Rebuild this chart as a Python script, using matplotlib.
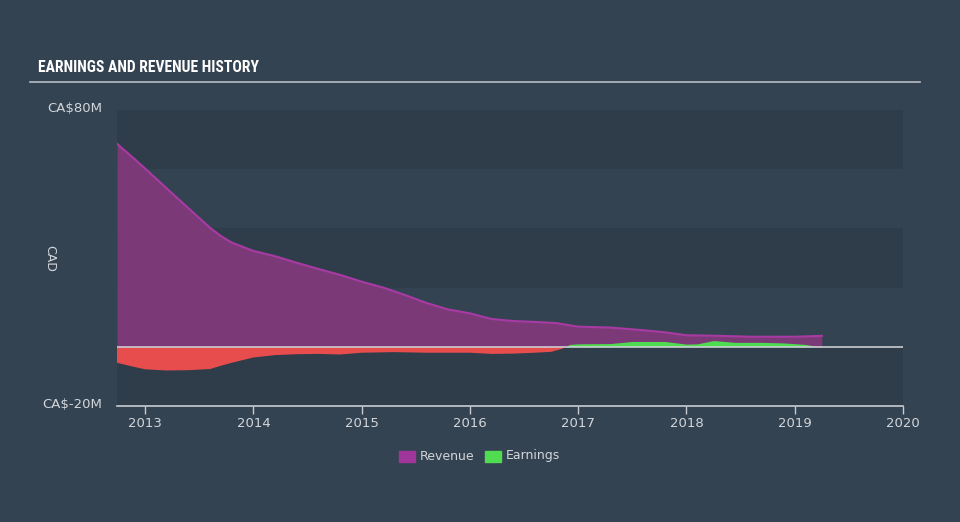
import matplotlib
matplotlib.use("Agg")
import matplotlib.pyplot as plt
from matplotlib import font_manager as fm
from matplotlib.patches import Rectangle
import numpy as np

# ---- data (CA$ millions) ----
rev_t = [2012.74, 2012.9, 2013.0, 2013.2, 2013.4, 2013.6, 2013.7, 2013.8, 2014.0, 2014.2,
         2014.4, 2014.6, 2014.8, 2015.0, 2015.2, 2015.4, 2015.6, 2015.8, 2016.0, 2016.2,
         2016.4, 2016.6, 2016.8, 2017.0, 2017.3, 2017.6, 2017.8, 2018.0, 2018.3, 2018.6,
         2019.0, 2019.25]
rev_v = [68.6, 63.5, 60.2, 53.5, 46.8, 40.2, 37.4, 35.2, 32.4, 30.6,
         28.4, 26.3, 24.3, 22.0, 20.0, 17.5, 14.8, 12.6, 11.3, 9.4,
         8.7, 8.4, 8.0, 6.8, 6.5, 5.6, 4.9, 3.9, 3.7, 3.4, 3.4, 3.7]

earn_t = [2012.74, 2012.9, 2013.0, 2013.2, 2013.4, 2013.6, 2013.7, 2013.8, 2014.0, 2014.2,
          2014.4, 2014.6, 2014.8, 2015.0, 2015.3, 2015.6, 2015.9, 2016.0, 2016.2, 2016.4,
          2016.6, 2016.75, 2016.85, 2016.92, 2017.0, 2017.3, 2017.5, 2017.8, 2018.0, 2018.1,
          2018.25, 2018.45, 2018.7, 2018.9, 2019.1, 2019.22, 2019.25]
earn_v = [-5.4, -6.8, -7.6, -8.0, -7.9, -7.5, -6.4, -5.4, -3.6, -2.8,
          -2.5, -2.4, -2.6, -2.0, -1.8, -2.0, -2.0, -2.0, -2.4, -2.3,
          -2.0, -1.7, -0.7, 0.8, 1.0, 1.1, 1.8, 1.8, 0.9, 1.0,
          2.1, 1.5, 1.5, 1.3, 0.8, 0.0, -0.5]

years = [2013, 2014, 2015, 2016, 2017, 2018, 2019, 2020]

# ---- style ----
BG = "#344351"
BAND_DARK = "#2f3d4b"
TXT = "#d2d6db"
REV_FILL = "#7b3a77"
REV_LINE = "#a83aa3"
NEG = "#e84d4d"
POS = "#4fdc50"

fig = plt.figure(figsize=(9.6, 5.22), dpi=100, facecolor=BG)
ax = fig.add_axes([117/960, 1-406/522, 786/960, 296/522])
ax.set_facecolor(BG)
ax.set_xlim(2012.74, 2020.0)
ax.set_ylim(-20, 80)

# background bands
for lo, hi in [(60, 80), (20, 40), (-20, 0)]:
    ax.axhspan(lo, hi, color=BAND_DARK, lw=0, zorder=0)

rt = np.array(rev_t); rv = np.array(rev_v)
ax.fill_between(rt, 0, rv, color=REV_FILL, lw=0, zorder=2)
ax.plot(rt, rv, color=REV_LINE, lw=1.5, zorder=3)

et = np.array(earn_t); ev = np.array(earn_v)
ax.fill_between(et, 0, ev, where=ev <= 0, interpolate=True, color=NEG, lw=0, zorder=4)
ax.fill_between(et, 0, ev, where=ev >= 0, interpolate=True, color=POS, lw=0, zorder=4)

ax.axhline(0, color="#c8ccd0", lw=1.2, zorder=5)

for s in ["top", "right", "left"]:
    ax.spines[s].set_visible(False)
ax.spines["bottom"].set_color("#c8ccd0")
ax.spines["bottom"].set_linewidth(1.2)
ax.set_yticks([])
ax.set_xticks(years)
ax.set_xticklabels([str(y) for y in years])
ax.tick_params(axis="x", colors="#c8ccd0", labelcolor=TXT, length=6, width=1, labelsize=9.5, pad=2)

# y labels
fig.text(102/960, 1-108/522, "CA\\$80M", color=TXT, fontsize=9.5, ha="right", va="center")
fig.text(102/960, 1-404/522, "CA\\$-20M", color=TXT, fontsize=9.5, ha="right", va="center")
fig.text(50/960, 1-258/522, "CAD", color=TXT, fontsize=9, rotation=270, ha="center", va="center")

# title: pick a condensed face if one is installed
title_family, title_stretch = "DejaVu Sans", "normal"
for fam in ["Roboto Condensed", "Open Sans Condensed", "Liberation Sans Narrow",
            "Noto Sans", "DejaVu Sans", "Open Sans", "Roboto"]:
    try:
        fp = fm.FontProperties(family=fam, weight="bold", stretch="condensed")
        path = fm.findfont(fp, fallback_to_default=False)
        name = path.lower()
        if "condensed" in name or "narrow" in name:
            title_family, title_stretch = fam, "condensed"
            break
    except Exception:
        pass

title = fig.text(38/960, 1-68/522, "EARNINGS AND REVENUE HISTORY", color="white", fontsize=12,
                 fontweight="bold", family=title_family, fontstretch=title_stretch,
                 ha="left", va="center")
# scale font size so the title spans roughly the same width as the original
fig.canvas.draw()
w = title.get_window_extent().width
target = 222.0
title.set_fontsize(12 * target / w)
fig.add_artist(plt.Line2D([30/960, 920/960], [1-82/522, 1-82/522], color="#b8bdc2", lw=1.2))

# legend
fig.add_artist(Rectangle((399/960, 1-462/522), 16/960, 11/522, color="#a0359c"))
fig.text(420/960, 1-456/522, "Revenue", color=TXT, fontsize=9, ha="left", va="center")
fig.add_artist(Rectangle((485/960, 1-462/522), 16/960, 11/522, color=POS))
fig.text(506/960, 1-456/522, "Earnings", color=TXT, fontsize=9, ha="left", va="center")

fig.savefig("out.png", dpi=100, facecolor=BG)
